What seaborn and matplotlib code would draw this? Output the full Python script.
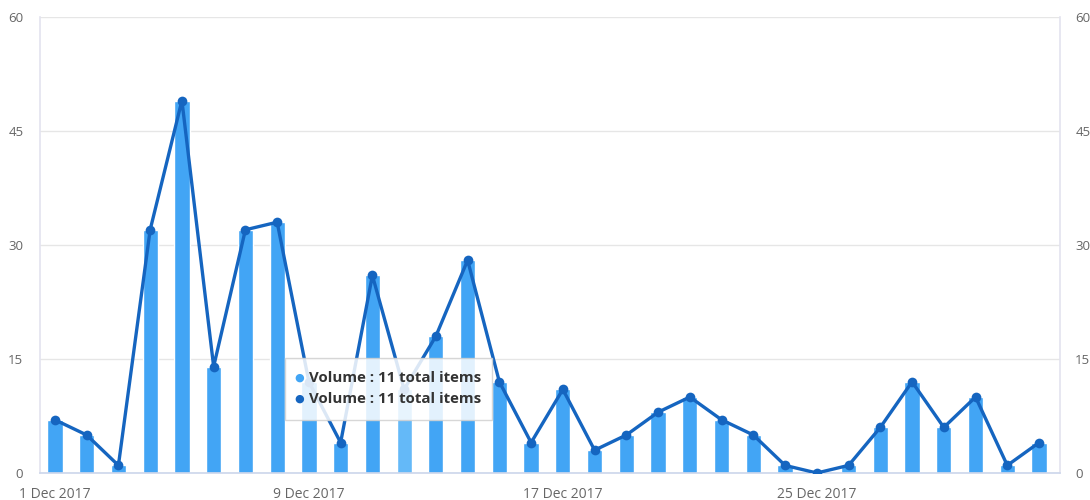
import pandas as pd
import matplotlib.pyplot as plt
import seaborn as sns
from matplotlib.patches import Rectangle

# Daily volume, 1 Dec 2017 .. 1 Jan 2018
days = pd.date_range("2017-12-01", "2018-01-01", freq="D")
volume = [7, 5, 1, 32, 49, 14, 32, 33, 12, 4, 26, 11, 18, 28, 12, 4,
          11, 3, 5, 8, 10, 7, 5, 1, 0, 1, 6, 12, 6, 10, 1, 4]
hover_day = 11  # index of the hovered bar (12 Dec)
y_ticks = [0, 15, 30, 45, 60]
x_tick_days = [0, 8, 16, 24]
tooltip_lines = ["Volume : 11 total items", "Volume : 11 total items"]

bar_color = "#42A5F5"
bar_hover = "#64B9F8"
line_color = "#1565C0"

df = pd.DataFrame({"idx": range(len(days)), "day": days, "volume": volume})

sns.set_theme(style="white")
plt.rcParams["font.family"] = ["Open Sans", "DejaVu Sans"]

fig = plt.figure(figsize=(10.9, 5.0), dpi=100)
ax = fig.add_axes([40 / 1090, 27 / 500, 1020 / 1090, 456 / 500])

palette = [bar_hover if i == hover_day else bar_color for i in df["idx"]]
sns.barplot(data=df, x="idx", y="volume", hue="idx", palette=palette,
            legend=False, width=0.48, dodge=False, saturation=1, ax=ax,
            zorder=2)
sns.lineplot(data=df, x="idx", y="volume", color=line_color, linewidth=2.4,
             marker="o", markersize=7, markeredgewidth=0, ax=ax, zorder=3)

ax.set_xlim(-0.47, 31.66)
ax.set_ylim(0, 60)
ax.set_yticks(y_ticks)
ax.grid(axis="y", color="#e6e6e6", linewidth=1, zorder=0)
ax.set_axisbelow(True)
ax.set_xticks(x_tick_days)
ax.set_xticklabels([days[i].strftime("%-d %b %Y") for i in x_tick_days])
ax.set_xlabel("")
ax.set_ylabel("")
ax.tick_params(axis="x", colors="#666666", labelsize=10, length=7,
               width=1, direction="out", pad=3)
ax.tick_params(axis="x", color="#ccd6eb")
ax.tick_params(axis="y", colors="#666666", labelsize=9.5, length=0, pad=12)

for side in ["left", "right"]:
    ax.spines[side].set_color("#e3e3ef")
    ax.spines[side].set_linewidth(1.2)
ax.spines["top"].set_visible(False)
ax.spines["bottom"].set_color("#ccd6eb")
ax.spines["bottom"].set_linewidth(1.2)

ax2 = ax.twinx()
ax2.set_ylim(0, 60)
ax2.set_yticks(y_ticks)
ax2.tick_params(axis="y", colors="#666666", labelsize=9.5, length=0, pad=11)
for s in ax2.spines.values():
    s.set_visible(False)

# tooltip
W, H = 1090, 500
box = Rectangle((285 / W, (H - 420) / H), 207 / W, 62 / H,
                transform=fig.transFigure, facecolor="white", alpha=0.85,
                edgecolor="#d0d0d0", linewidth=1, zorder=10)
fig.patches.append(box)
for k, (txt, c) in enumerate(zip(tooltip_lines, [bar_color, line_color])):
    yy = (H - 378 - 21 * k) / H
    fig.text(299 / W, yy, "\u25CF", color=c, fontsize=8, ha="center",
             va="center", zorder=11, family="DejaVu Sans")
    fig.text(309 / W, yy, txt, color="#333333", fontsize=10.8,
             fontweight="bold", ha="left", va="center", zorder=11)

fig.savefig("out.png", dpi=100)
